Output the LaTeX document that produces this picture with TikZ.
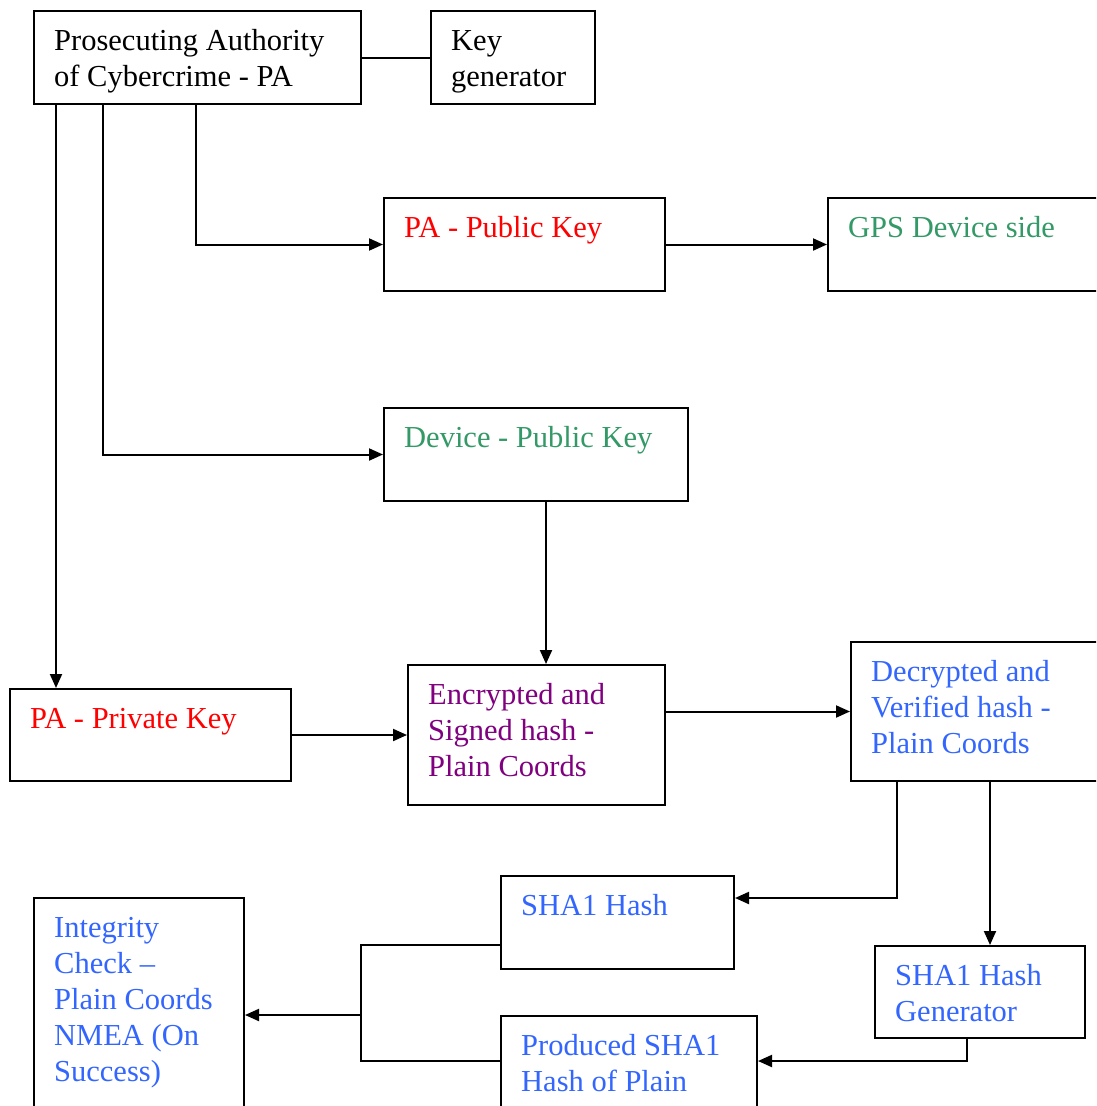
\documentclass[tikz,border=0pt]{standalone}
\usepackage{fontspec}
\setmainfont{Liberation Serif}
\usetikzlibrary{arrows.meta}

\definecolor{txtred}{RGB}{255,0,0}
\definecolor{txtgreen}{RGB}{51,153,102}
\definecolor{txtpurple}{RGB}{128,0,128}
\definecolor{txtblue}{RGB}{51,102,255}

\tikzset{
  flowbox/.style={draw=black, line width=2pt, fill=white, inner sep=0pt,
    minimum width=#1},
  boxtext/.style={anchor=base west, inner sep=0pt,
    font=\fontsize{30.5}{36}\selectfont},
  link/.style={line width=2pt},
  arr/.style={link, -{Triangle[length=14pt,width=12pt]}},
}

% \flowbox{name}{x1}{y1}{x2}{y2}{colour}{text}: box from (x1,y1) to (x2,y2),
% text lines set from its top left, first baseline 39pt below the top edge
\newcommand{\flowbox}[7]{%
  \node[flowbox={#4pt-#2pt}, minimum height={#5pt-#3pt}] (#1) at ({(#2+#4)/2},{(#3+#5)/2}) {};
  \node[boxtext, text=#6] (#1-t) at ({#2+20},{#3+39})
    {\begin{tabular}[t]{@{}l@{}}#7\end{tabular}};
}

\begin{document}
\begin{tikzpicture}[x=1pt, y=-1pt]
  \useasboundingbox (0,0) rectangle (1096,1106);
  \clip (0,0) rectangle (1096,1106);
  \fill[white] (0,0) rectangle (1096,1106);

  % boxes
  \flowbox{pa}{34}{11}{361}{104}{black}{Prosecuting Authority\\of Cybercrime - PA}
  \flowbox{key}{431}{11}{595}{104}{black}{Key\\generator}
  \flowbox{papub}{384}{198}{665}{291}{txtred}{PA - Public Key}
  \flowbox{gps}{828}{198}{1115}{291}{txtgreen}{GPS Device side}
  \flowbox{devpub}{384}{408}{688}{501}{txtgreen}{Device - Public Key}
  \flowbox{priv}{10}{689}{291}{781}{txtred}{PA - Private Key}
  \flowbox{enc}{408}{665}{665}{805}{txtpurple}{Encrypted and\\Signed hash -\\Plain Coords}
  \flowbox{dec}{851}{642}{1115}{781}{txtblue}{Decrypted and\\Verified hash -\\Plain Coords}
  \flowbox{sha}{501}{876}{734}{969}{txtblue}{SHA1 Hash}
  \flowbox{gen}{875}{946}{1085}{1038}{txtblue}{SHA1 Hash\\Generator}
  \flowbox{prod}{501}{1016}{757}{1125}{txtblue}{Produced SHA1\\Hash of Plain}
  \flowbox{integ}{34}{898}{244}{1125}{txtblue}{Integrity\\Check --\\Plain Coords\\NMEA (On\\Success)}

  % connectors
  \draw[link] (pa) -- (key);
  \draw[arr] ([xshift=163pt]pa.south west) |- (papub.west);
  \draw[arr] (papub) -- (gps);
  \draw[arr] ([xshift=70pt]pa.south west) |- (devpub.west);
  \draw[arr] ([xshift=23pt]pa.south west) -- ([xshift=47pt]priv.north west);
  \draw[arr] ([xshift=163pt]devpub.south west) -- ([xshift=139pt]enc.north west);
  \draw[arr] (priv) -- (enc);
  \draw[arr] (enc.east |- dec) -- (dec);
  \draw[arr] ([xshift=47pt]dec.south west) |- ([yshift=-23pt]sha.north east);
  \draw[arr] ([xshift=140pt]dec.south west) -- ([xshift=116pt]gen.north west);
  \draw[arr] ([xshift=93pt]gen.south west) |- ([yshift=-46pt]prod.north east);
  \coordinate (join) at (361,1015);
  \draw[link] ([yshift=-70pt]sha.north west) -| (join) |- ([yshift=-46pt]prod.north west);
  \draw[arr] (join) -- (integ.east |- join);
\end{tikzpicture}
\end{document}
